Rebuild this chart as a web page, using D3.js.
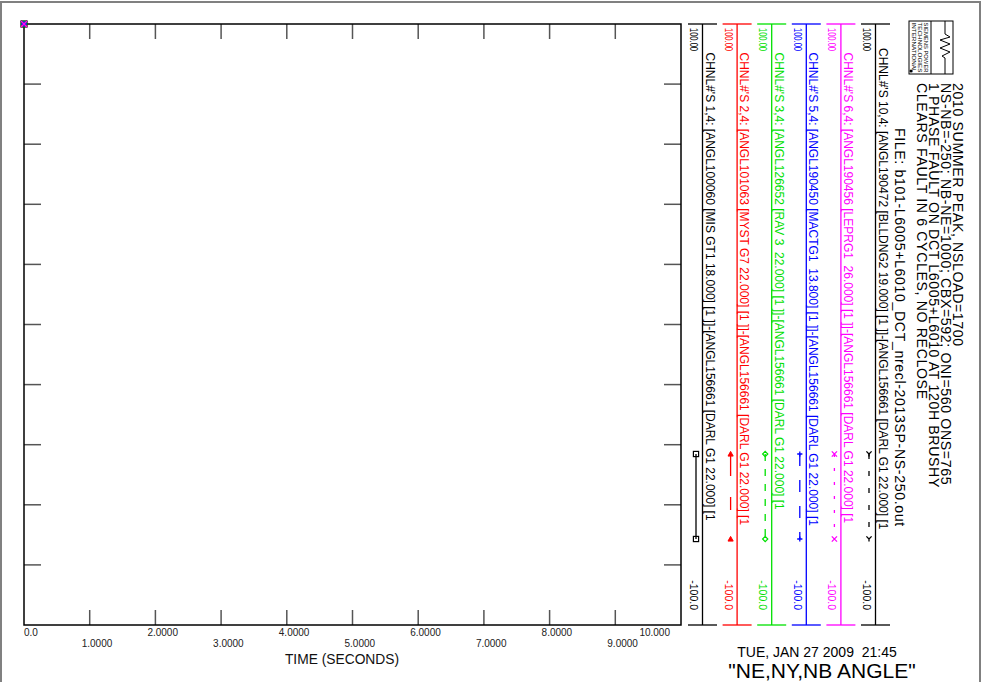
<!DOCTYPE html>
<html><head><meta charset="utf-8">
<script src="https://cdn.jsdelivr.net/npm/d3@7"></script>
<style>
html,body{margin:0;padding:0;background:#fff;}
svg{display:block;font-family:"Liberation Sans",Arial,sans-serif;}
</style></head>
<body>
<svg id="chart" width="982" height="682"></svg>
<script>
// ---------- data ----------
const xTicks = [0,1,2,3,4,5,6,7,8,9,10];
const xTickLabels = ["0.0","1.0000","2.0000","3.0000","4.0000","5.0000","6.0000","7.0000","8.0000","9.0000","10.000"];
const yTicks = [-100,-80,-60,-40,-20,0,20,40,60,80,100];
const channelLabels = [
  "CHNL#'S 1,4: [ANGL100060 [MIS GT1 18.000] [1 ]]-[ANGL156661 [DARL G1 22.000] [1",
  "CHNL#'S 2,4: [ANGL101063 [MYST G7 22.000] [1 ]]-[ANGL156661 [DARL G1 22.000] [1",
  "CHNL#'S 3,4: [ANGL126652 [RAV 3  22.000] [1 ]]-[ANGL156661 [DARL G1 22.000] [1",
  "CHNL#'S 5,4: [ANGL190450 [MACTG1  13.800] [1 ]]-[ANGL156661 [DARL G1 22.000] [1",
  "CHNL#'S 6,4: [ANGL190456 [LEPRG1  26.000] [1 ]]-[ANGL156661 [DARL G1 22.000] [1",
  "CHNL#'S 10,4: [ANGL190472 [BLLDNG2 19.000] [1 ]]-[ANGL156661 [DARL G1 22.000] [1"
];
const channelColors = ["#000000","#ff0000","#00e000","#0000ff","#ff00ff","#000000"];
const channelMarkers = ["square","triangle","diamond","plus","cross","wye"];
const channelDash = [null,"22,21,13,40","7,8","12,14","3,11","5,12"];
const axisMaxLabels = ["100.00","100.00","100.00","100.00","100.00","100.00"];
const axisMinLabels = ["-100.0","-100.0","-100.0","-100.0","-100.0","-100.0"];
const times = [0.0];
const ch1 = [100], ch2 = [100], ch3 = [100], ch5 = [100], ch6 = [100], ch10 = [100];
const seriesValues = [ch1, ch2, ch3, ch5, ch6, ch10];
const titleLines = [
  "2010 SUMMER PEAK, NSLOAD=1700",
  "NS-NB=-250; NB-NE=1000; CBX=592; ONI=560 ONS=765",
  "1 PHASE FAULT ON DCT L6005+L6010 AT 120H BRUSHY",
  "CLEARS FAULT IN 6 CYCLES, NO RECLOSE"
];
const fileLine = "FILE: b101-L6005+L6010_DCT_nrecl-2013SP-NS-250.out";
const dateText = "TUE, JAN 27 2009  21:45";
const plotTitle = "\"NE,NY,NB ANGLE\"";
const xAxisTitle = "TIME (SECONDS)";
const logoText = ["SIEMENS POWER","TECHNOLOGIES","INTERNATIONAL"];

// ---------- layout ----------
const svg = d3.select("#chart");
const L = 24, R = 681, T = 24, B = 625;
const x = d3.scaleLinear().domain([0,10]).range([L,R]);
const y = d3.scaleLinear().domain([-100,100]).range([B,T]);
const chX = d3.scaleLinear().domain([0,5]).range([702.5,875.5]);

// page border
svg.append("path").attr("d","M1,682 V2 H980 V682")
  .attr("fill","none").attr("stroke","#808080").attr("stroke-width",2);

// ticks
const tk = svg.append("g").attr("stroke","#555").attr("stroke-width",1.5);
xTicks.slice(1,-1).forEach(t=>{
  tk.append("line").attr("x1",x(t)).attr("x2",x(t)).attr("y1",T).attr("y2",T+15);
  tk.append("line").attr("x1",x(t)).attr("x2",x(t)).attr("y1",B).attr("y2",B-15);
});
yTicks.slice(1,-1).forEach(v=>{
  tk.append("line").attr("x1",L).attr("x2",L+17).attr("y1",y(v)).attr("y2",y(v));
  tk.append("line").attr("x1",R).attr("x2",R-17).attr("y1",y(v)).attr("y2",y(v));
});
// frame
svg.append("rect").attr("x",L).attr("y",T).attr("width",R-L).attr("height",B-T)
  .attr("fill","none").attr("stroke","#000").attr("stroke-width",1.5);

// x tick labels
xTicks.forEach((t,i)=>{
  const odd = i%2===1;
  let tx = x(t)-8, anchor="start";
  if(i===0){tx=x(t);}
  if(i===xTicks.length-1){tx=x(t)-11; anchor="end";}
  svg.append("text").attr("x",tx).attr("y",odd?646.5:635.5)
    .attr("text-anchor",anchor).attr("font-size",10).attr("fill","#222").text(xTickLabels[i]);
});
svg.append("text").attr("x",342).attr("y",664).attr("text-anchor","middle")
  .attr("font-size",13.8).attr("fill","#111").text(xAxisTitle);

// marker drawing
function marker(g, type, cx, cy, color, s){
  s = s||3;
  if(type==="square") g.append("rect").attr("x",cx-s).attr("y",cy-s).attr("width",2*s).attr("height",2*s).attr("fill","none").attr("stroke",color).attr("stroke-width",1.2);
  else if(type==="triangle") g.append("path").attr("d",`M${cx},${cy-s} L${cx+s},${cy+s*0.8} L${cx-s},${cy+s*0.8}Z`).attr("fill",color).attr("stroke",color).attr("stroke-width",1);
  else if(type==="diamond") g.append("path").attr("d",`M${cx},${cy-s} L${cx+s},${cy} L${cx},${cy+s} L${cx-s},${cy}Z`).attr("fill","none").attr("stroke",color).attr("stroke-width",1.2);
  else if(type==="plus") g.append("path").attr("d",`M${cx-s},${cy} H${cx+s} M${cx},${cy-s} V${cy+s}`).attr("stroke",color).attr("stroke-width",1.3);
  else if(type==="cross") g.append("path").attr("d",`M${cx-s},${cy-s} L${cx+s},${cy+s} M${cx+s},${cy-s} L${cx-s},${cy+s}`).attr("stroke",color).attr("stroke-width",1.3);
  else if(type==="wye") g.append("path").attr("d",`M${cx},${cy} L${cx-s},${cy-s} M${cx},${cy} L${cx+s},${cy-s} M${cx},${cy} V${cy+s}`).attr("stroke",color).attr("stroke-width",1.3);
}

// data marks (all at t=0, clipped to top); drawn so coloured markers end on top
const drawOrder = [5,0,1,2,3,4];
drawOrder.forEach(c=>{
  const vals = seriesValues[c];
  const g = svg.append("g");
  const line = d3.line().x((d,i)=>x(times[i])).y(d=>y(Math.min(100,Math.max(-100,d))));
  g.append("path").attr("d",line(vals)).attr("fill","none").attr("stroke",channelColors[c]).attr("stroke-width",1.2);
  vals.forEach((v,i)=>marker(g, channelMarkers[c], x(times[i]), y(Math.min(100,v)), channelColors[c], 3));
});

// vertical text helper
function vtext(px, py, str, size, color, extra){
  const t = svg.append("text").attr("transform",`translate(${px},${py}) rotate(90)`)
    .attr("font-size",size).attr("fill",color).style("white-space","pre").text(str);
  if(extra) extra(t);
  return t;
}

// channel axes
channelLabels.forEach((lab,c)=>{
  const cx = chX(c), col = channelColors[c];
  const g = svg.append("g").attr("stroke",col).attr("stroke-width",1.3);
  g.append("line").attr("x1",cx).attr("x2",cx).attr("y1",y(100)).attr("y2",y(-100));
  g.append("line").attr("x1",cx-14.5).attr("x2",cx+14.5).attr("y1",y(100)).attr("y2",y(100));
  g.append("line").attr("x1",cx-14.5).attr("x2",cx+14.5).attr("y1",y(-100)).attr("y2",y(-100));
  vtext(cx-12.5, 28, axisMaxLabels[c], 10.5, col, t=>t.attr("textLength",23).attr("lengthAdjust","spacingAndGlyphs"));
  vtext(cx-12.5, 610, axisMinLabels[c], 10.5, col, t=>t.attr("text-anchor","end"));
  vtext(cx+3, c===5?48:52.5, lab, 12, col);
  // legend sample
  const lx = cx-6.5;
  const ls = svg.append("line").attr("x1",lx).attr("x2",lx).attr("y1",454).attr("y2",539)
    .attr("stroke",col).attr("stroke-width",1.3);
  if(channelDash[c]) ls.attr("stroke-dasharray",channelDash[c]);
  const mg = svg.append("g");
  marker(mg, channelMarkers[c], lx, 454, col, 2.6);
  marker(mg, channelMarkers[c], lx, 539, col, 2.6);
});

// titles
const titleX = [953, 941, 929, 917];
titleLines.forEach((s,i)=>vtext(titleX[i], 83, s, 14.2, "#000", t=>t.style("letter-spacing","0.6px")));
vtext(894.5, 128, fileLine, 14.2, "#000", t=>t.style("letter-spacing","0.6px"));

// logo
const lg = svg.append("g").attr("fill","none").attr("stroke","#000").attr("stroke-width",1);
lg.append("rect").attr("x",909).attr("y",21).attr("width",44).attr("height",53);
lg.append("line").attr("x1",931).attr("x2",931).attr("y1",21).attr("y2",74);
lg.append("path").attr("d","M945,21 V34 L950,37 L940,40 L950,44 L940,48 L950,52 L942,56 L945,58 V74");
logoText.forEach((s,i)=>vtext(924-i*6, 22.5, s, 5.8, "#000", t=>t.attr("textLength",50).attr("lengthAdjust","spacingAndGlyphs")));
svg.append("circle").attr("cx",911).attr("cy",71).attr("r",1.5).attr("fill","#000");

// date and plot title
svg.append("text").attr("x",817).attr("y",657).attr("text-anchor","middle").attr("font-size",14)
  .style("white-space","pre").attr("fill","#000").text(dateText);
svg.append("text").attr("x",822).attr("y",678).attr("text-anchor","middle").attr("font-size",21)
  .attr("fill","#000").text(plotTitle);
</script>
</body></html>
